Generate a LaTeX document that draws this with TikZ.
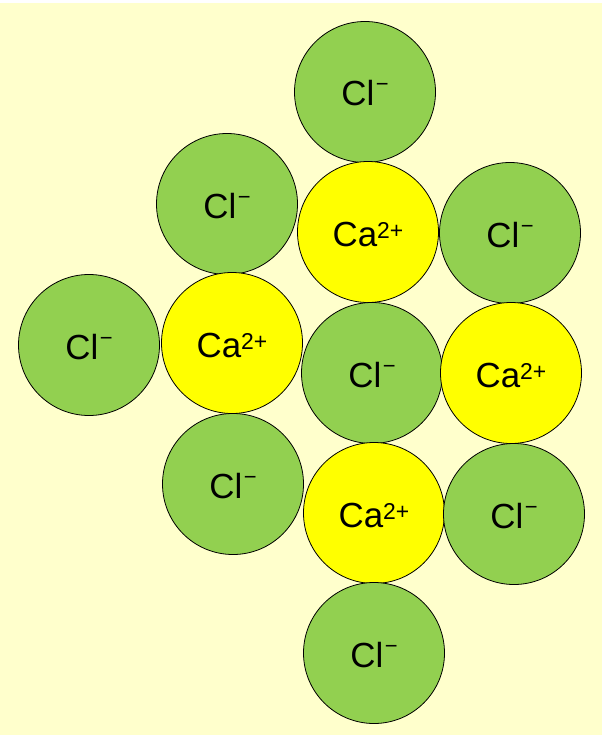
\documentclass[tikz,border=0pt]{standalone}
\usepackage{fontspec}
\setmainfont{Liberation Sans}
\definecolor{bgyellow}{HTML}{FFFFCC}
\definecolor{clgreen}{HTML}{92D050}
\definecolor{cayellow}{HTML}{FFFF00}
\newcommand\chargeplus[1]{\raisebox{8bp}{\fontsize{23}{23}\selectfont #1}}
\newcommand\chargeminus{\hspace{1.5bp}\raisebox{14bp}{\fontsize{22}{22}\selectfont −}}
\begin{document}
\begin{tikzpicture}[x=1bp,y=-1bp,
  ion/.style={circle, draw=black, line width=0.8bp, minimum size=141bp,
    inner sep=0pt, text height=28bp, text depth=0bp, text=black,
    font=\fontsize{35}{35}\selectfont},
  chloride/.style={ion, fill=clgreen},
  calcium/.style={ion, fill=cayellow}]
\useasboundingbox (0,0) rectangle (602,735);
\fill[white] (0,0) rectangle (602,735);
\fill[bgyellow] (0,3) rectangle (602,735);
\node[chloride] (clA) at (365,92) {Cl\chargeminus};
\node[chloride] (clB) at (227,204) {Cl\chargeminus};
\node[calcium] (caC) at (368,232) {Ca\chargeplus{2+}};
\node[chloride] (clD) at (510,233) {Cl\chargeminus};
\node[chloride] (clE) at (89,345) {Cl\chargeminus};
\node[calcium] (caF) at (232,343) {Ca\chargeplus{2+}};
\node[chloride] (clG) at (372,373) {Cl\chargeminus};
\node[calcium] (caH) at (511,373) {Ca\chargeplus{2+}};
\node[chloride] (clI) at (233,484) {Cl\chargeminus};
\node[calcium] (caJ) at (374,513) {Ca\chargeplus{2+}};
\node[chloride] (clK) at (514,514) {Cl\chargeminus};
\node[chloride] (clL) at (374,653) {Cl\chargeminus};
\end{tikzpicture}
\end{document}
